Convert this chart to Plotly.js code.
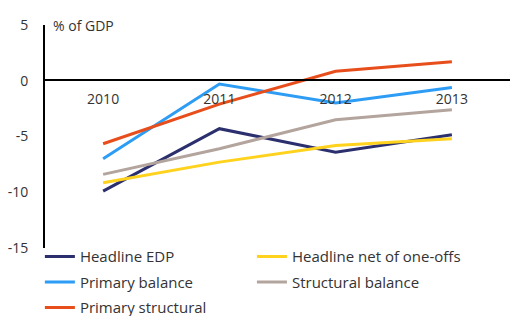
<!DOCTYPE html>
<html><head><meta charset="utf-8">
<script src="https://cdn.plot.ly/plotly-3.0.1.min.js"></script>
<style>html,body{margin:0;padding:0;background:#fff}#chart{width:510px;height:316px}</style>
</head><body><div id="chart"></div>
<script>
const years = ['2010','2011','2012','2013'];
const headlineEDP = [-9.9, -4.3, -6.4, -4.85];
const headlineNetOneOffs = [-9.15, -7.3, -5.8, -5.2];
const primaryBalance = [-7.0, -0.3, -2.0, -0.6];
const structuralBalance = [-8.4, -6.1, -3.5, -2.6];
const primaryStructural = [-5.65, -2.1, 0.85, 1.7];
const yTicks = [5, 0, -5, -10, -15];

const font = '"Open Sans", Lato, "DejaVu Sans", sans-serif';
function tr(name, y, color, lg){
  return {x: years, y: y, name: name, type: 'scatter', mode: 'lines',
    line: {color: color, width: 3}, legend: lg, legendgroup: name};
}
const data = [
  tr('Headline EDP', headlineEDP, '#2B2F6E', 'legend'),
  tr('Headline net of one-offs', headlineNetOneOffs, '#FFD21E', 'legend2'),
  tr('Primary balance', primaryBalance, '#2D9CF5', 'legend'),
  tr('Structural balance', structuralBalance, '#B3A59D', 'legend2'),
  tr('Primary structural', primaryStructural, '#E84E1B', 'legend')
];
const legendBase = {orientation: 'v', xanchor: 'left', yanchor: 'top',
  font: {size: 15, color: '#333'}, bgcolor: 'rgba(0,0,0,0)', tracegroupgap: 3};
const layout = {
  width: 510, height: 316,
  margin: {l: 45, r: 0, t: 25, b: 68, autoexpand: false},
  paper_bgcolor: '#fff', plot_bgcolor: '#fff',
  font: {family: font, size: 14, color: '#333'},
  showlegend: true,
  legend: Object.assign({}, legendBase, {x: -0.011, y: 0.035}),
  legend2: Object.assign({}, legendBase, {x: 0.445, y: 0.035}),
  xaxis: {type: 'category', range: [-0.5, 3.5], anchor: 'free', position: 0.7534,
    showline: true, linecolor: '#000', linewidth: 2, showgrid: false, zeroline: false,
    ticks: '', tickfont: {size: 14, color: '#333'}, ticklabelstandoff: 6, fixedrange: true},
  yaxis: {range: [-15, 5], tickvals: yTicks, ticktext: yTicks.map(String),
    showline: true, linecolor: '#000', linewidth: 2, showgrid: false, zeroline: false,
    ticks: '', tickfont: {size: 14, color: '#333'}, ticklabelstandoff: 12, fixedrange: true},
  annotations: [{text: '% of GDP', xref: 'paper', yref: 'paper', x: 0.013, y: 1.0,
    xanchor: 'left', yanchor: 'middle', showarrow: false, font: {size: 14, color: '#333'}}]
};
Plotly.newPlot('chart', data, layout, {displayModeBar: false, staticPlot: true});
</script></body></html>
